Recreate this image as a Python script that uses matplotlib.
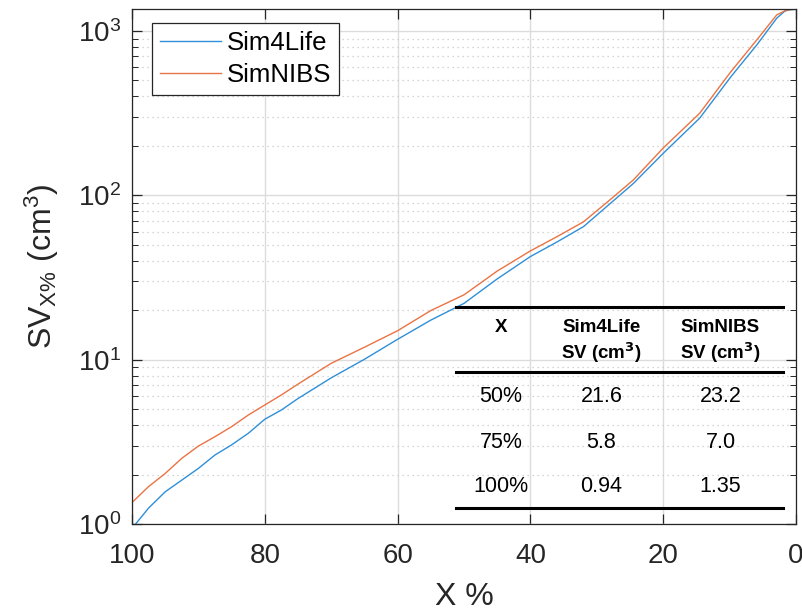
import matplotlib.pyplot as plt
from matplotlib.lines import Line2D

plt.rcParams["font.family"] = ["Liberation Sans", "DejaVu Sans"]
plt.rcParams["mathtext.default"] = "regular"

# curve data
x_pct = [100, 97.5, 95, 92.5, 90, 87.5, 85, 82.5, 80, 77.5, 75, 70, 65, 60,
         55, 50, 45, 40, 36, 32, 28, 24.5, 20, 14.5, 9.8, 5.9, 2.9, 1.7, 1.0, 0]
sim4life = [0.94, 1.25, 1.57, 1.85, 2.18, 2.63, 3.03, 3.56, 4.34, 4.94, 5.8,
            7.75, 10.05, 13.3, 17.4, 22.0, 31.0, 42.4, 52, 64.5, 89, 118, 180,
            295, 527, 823, 1196, 1320, 1345, 1355]
simnibs = [1.35, 1.69, 2.03, 2.51, 2.98, 3.4, 3.91, 4.6, 5.3, 6.1, 7.1, 9.5,
           11.9, 15.0, 19.9, 24.8, 34.6, 45.9, 56, 69, 94, 124, 194, 316, 566,
           883, 1253, 1325, 1350, 1355]

# table data
table_x = ["50%", "75%", "100%"]
table_s4l = ["21.6", "5.8", "0.94"]
table_nibs = ["23.2", "7.0", "1.35"]

W, H = 803, 614


def fx(px):
    return px / W


def fy(py):
    return 1 - py / H


def main():
    fig = plt.figure(figsize=(W / 100, H / 100), dpi=100)
    ax = fig.add_axes([fx(132), fy(524), fx(796) - fx(132), fy(9.3) - fy(524)])

    ax.plot(x_pct, sim4life, color="#2f8fd8", lw=1.0, label="Sim4Life")
    ax.plot(x_pct, simnibs, color="#ea7344", lw=1.0, label="SimNIBS")

    ax.set_yscale("log")
    ax.set_xlim(100, 0)
    ax.set_ylim(1, 1355)
    ax.set_xticks([100, 80, 60, 40, 20, 0])

    ax.grid(True, which="major", color="#dcdcdc", lw=1.0, ls="-")
    ax.grid(True, which="minor", axis="y", color="#c8c8c8", lw=0.9, ls=(0, (1, 3)))
    ax.set_axisbelow(True)

    ax.tick_params(which="both", direction="in", top=True, right=True,
                   colors="#262626", labelcolor="#262626")
    ax.tick_params(which="major", length=7, width=0.9, labelsize=20)
    ax.tick_params(which="minor", length=4, width=0.7)
    ax.tick_params(axis="x", pad=14)
    ax.tick_params(axis="y", pad=8)
    for s in ax.spines.values():
        s.set_color("#262626")
        s.set_linewidth(0.9)

    ax.set_xlabel("X %", fontsize=23, color="#262626", labelpad=9)
    ax.set_ylabel("SV$_{X\\%}$ (cm$^3$)", fontsize=23, color="#262626", labelpad=12)

    leg = ax.legend(loc="upper left", bbox_to_anchor=(0.030, 0.973), fontsize=18.5,
                    handlelength=2.37, fancybox=False, framealpha=1,
                    edgecolor="#262626", borderpad=0.3, labelspacing=0.32,
                    handletextpad=0.23, borderaxespad=0)
    leg.get_frame().set_linewidth(0.9)

    # table inset
    for py in [307, 372, 508]:
        fig.add_artist(Line2D([fx(456), fx(783)], [fy(py), fy(py)],
                              color="black", lw=2.2))
    hdr = dict(fontsize=13.5, fontweight="bold", ha="center", va="center")
    fig.text(fx(501), fy(327), "X", **hdr)
    fig.text(fx(601.5), fy(327), "Sim4Life", **hdr)
    fig.text(fx(601.5), fy(353), "SV (cm$^\\mathbf{3}$)", **hdr)
    fig.text(fx(720.5), fy(327), "SimNIBS", **hdr)
    fig.text(fx(720.5), fy(353), "SV (cm$^\\mathbf{3}$)", **hdr)
    for i, py in enumerate([397, 442, 487]):
        fig.text(fx(501), fy(py), table_x[i], fontsize=15.5, ha="center", va="center")
        fig.text(fx(601.5), fy(py), table_s4l[i], fontsize=15.5, ha="center", va="center")
        fig.text(fx(720.5), fy(py), table_nibs[i], fontsize=15.5, ha="center", va="center")

    fig.savefig("out.png", dpi=100)


if __name__ == "__main__":
    main()
